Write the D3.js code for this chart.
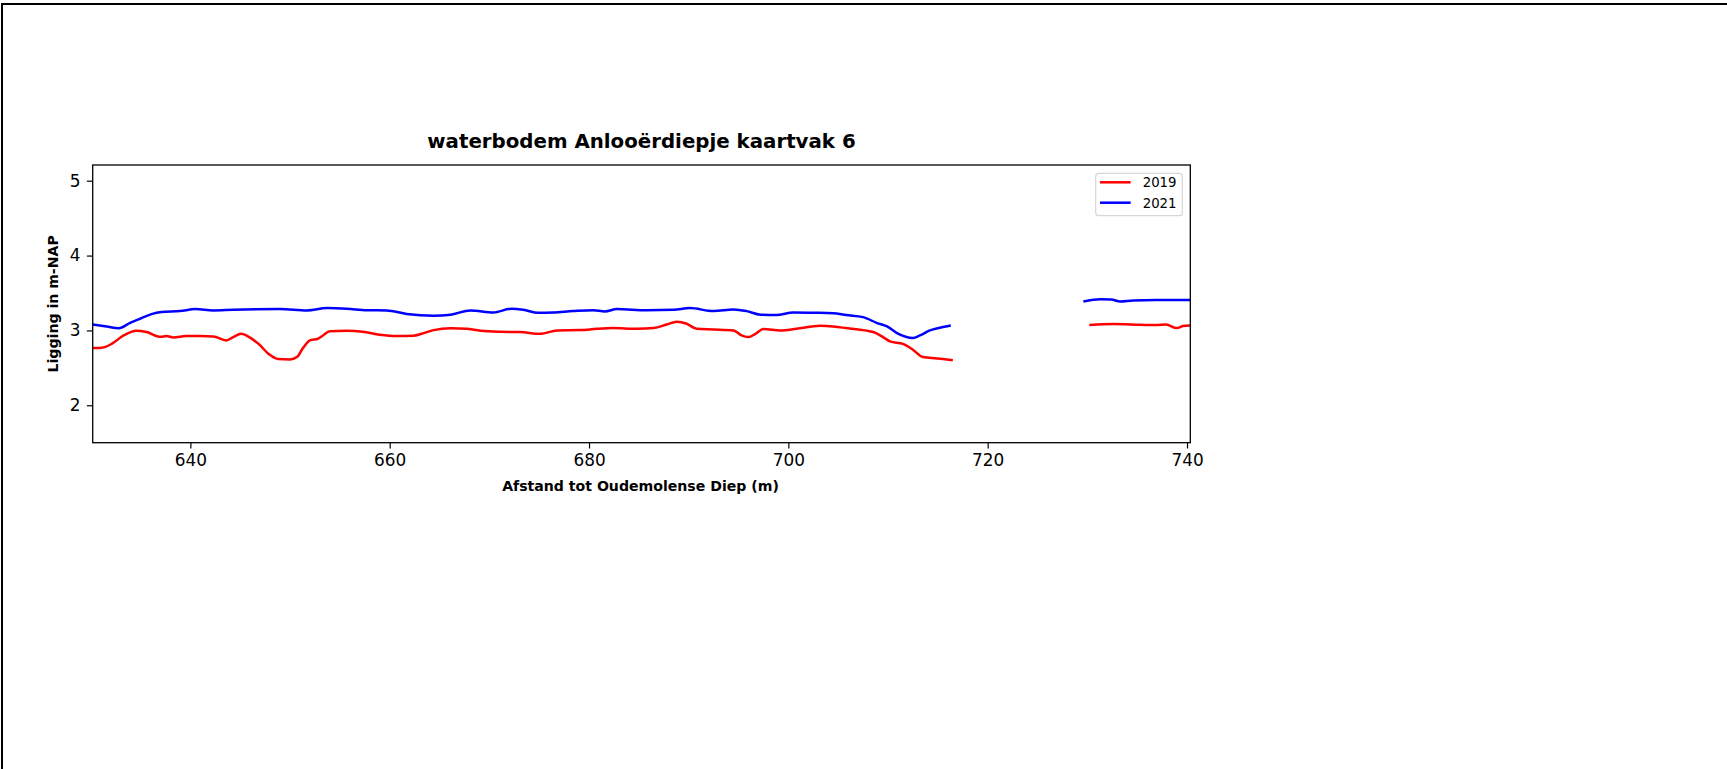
<!DOCTYPE html>
<html>
<head>
<meta charset="utf-8">
<script src="https://cdn.jsdelivr.net/npm/d3@7"></script>
<style>
  html, body { margin: 0; padding: 0; background: #fff; overflow: hidden; }
  #frame { position: absolute; left: 1px; top: 3px; width: 1800px; height: 900px; border: 2px solid #000; box-sizing: border-box; }
  svg { position: absolute; left: 0; top: 0; }
  text { font-family: "DejaVu Sans", sans-serif; fill: #000; }
</style>
</head>
<body>
<div id="frame"></div>
<svg id="chart" width="1727" height="769"></svg>
<script>
const titleText = "waterbodem Anlooërdiepje kaartvak 6";
const xLabelText = "Afstand tot Oudemolense Diep (m)";
const yLabelText = "Ligging in m-NAP";
const seriesNames = ["2019", "2021"];
const xTicks = [640, 660, 680, 700, 720, 740];
const yTicks = [2, 3, 4, 5];

// 2019 (null = gap in data)
const dist2019 = [630.2,631.1,632.1,633.3,634.6,635.6,637.0,637.6,638.3,639.6,641.0,642.3,643.6,644.3,645.1,645.9,646.9,647.9,648.8,650.0,650.7,651.3,652.0,652.8,653.3,654.0,655.7,657.3,659.0,660.7,662.4,663.2,664.4,666.1,667.7,669.1,671.1,673.1,675.1,676.8,679.1,680.8,682.4,684.8,686.5,687.8,688.8,689.8,690.8,692.5,694.5,695.3,696.0,696.7,697.5,699.2,700.8,703.2,704.5,705.8,708.5,709.5,710.2,711.5,712.5,713.5,714.9,715.5,716.5,
  723,
  730.2,732.6,735.3,736.9,737.9,738.96,739.6,740.3];
const level2019 = [2.764,2.768,2.82,2.933,2.996,2.978,2.915,2.924,2.907,2.924,2.924,2.92,2.866,2.911,2.955,2.911,2.813,2.68,2.617,2.613,2.644,2.764,2.866,2.889,2.933,2.99,2.996,2.982,2.942,2.924,2.929,2.955,3.004,3.03,3.022,2.996,2.982,2.978,2.955,3.0,3.004,3.022,3.031,3.022,3.031,3.08,3.116,3.089,3.022,3.013,3.0,2.933,2.911,2.955,3.018,3.0,3.022,3.062,3.053,3.031,2.978,2.911,2.853,2.82,2.742,2.644,2.626,2.617,2.6,
  null,
  3.071,3.085,3.076,3.071,3.08,3.031,3.058,3.067];

// 2021
const dist2021 = [630.2,631.6,632.8,633.95,634.95,636.1,637.1,638.96,640.5,642.3,644.3,649.0,651.7,653.7,655.7,657.7,659.7,661.7,664.4,666.1,668.1,670.4,672.2,673.4,674.9,676.4,678.4,680.4,681.6,682.8,685.8,688.5,690.1,692.5,694.5,695.8,697.2,698.8,700.5,702.5,704.5,705.8,707.5,708.9,709.9,710.9,712.5,713.2,714.2,715.2,716.3,
  723,
  729.6,731.3,732.4,733.3,734.6,736.9,740.3];
const level2021 = [3.08,3.053,3.03,3.10,3.156,3.218,3.245,3.258,3.285,3.267,3.276,3.285,3.267,3.298,3.29,3.27,3.267,3.22,3.196,3.21,3.267,3.24,3.289,3.276,3.236,3.24,3.258,3.27,3.254,3.285,3.27,3.276,3.298,3.258,3.28,3.258,3.21,3.205,3.24,3.236,3.23,3.205,3.178,3.098,3.053,2.964,2.898,2.933,3.0,3.036,3.067,
  null,
  3.387,3.418,3.414,3.387,3.40,3.405,3.405];

const seriesColors = ["#ff0000", "#0000ff"];

const svg = d3.select("#chart");
const L = 92.7, T = 165, W = 1097.6, H = 277.7;
const x = d3.scaleLinear().domain([630.2, 740.33]).range([L, L + W]);
const y = d3.scaleLinear().domain([1.5, 5.21]).range([T + H, T]);

svg.append("clipPath").attr("id", "clip").append("rect")
  .attr("x", L).attr("y", T).attr("width", W).attr("height", H);

const line = d3.line()
  .defined(d => d[1] !== null)
  .x(d => x(d[0])).y(d => y(d[1]))
  .curve(d3.curveMonotoneX);

const series = [
  d3.zip(dist2019, level2019),
  d3.zip(dist2021, level2021)
];

series.forEach((s, i) => {
  svg.append("path").datum(s)
    .attr("clip-path", "url(#clip)")
    .attr("fill", "none")
    .attr("stroke", seriesColors[i])
    .attr("stroke-width", 2.5)
    .attr("stroke-linejoin", "round")
    .attr("stroke-linecap", "butt")
    .attr("d", line);
});

// axes
const xAxis = d3.axisBottom(x).tickValues(xTicks).tickSize(5.8).tickPadding(5.5).tickFormat(d3.format("d"));
const yAxis = d3.axisLeft(y).tickValues(yTicks).tickSize(5.8).tickPadding(6.5).tickFormat(d3.format("d"));

const gx = svg.append("g").attr("transform", `translate(0,${T + H})`).call(xAxis);
const gy = svg.append("g").attr("transform", `translate(${L},0)`).call(yAxis);
[gx, gy].forEach(g => {
  g.select(".domain").remove();
  g.selectAll(".tick line").attr("stroke", "#000").attr("stroke-width", 1.2);
  g.selectAll(".tick text").attr("font-family", "DejaVu Sans").attr("font-size", 16.9).attr("fill", "#000");
});

// frame (spines)
svg.append("rect").attr("x", L).attr("y", T).attr("width", W).attr("height", H)
  .attr("fill", "none").attr("stroke", "#000").attr("stroke-width", 1.3);

// title
svg.append("text").attr("x", L + W / 2).attr("y", 148)
  .attr("text-anchor", "middle").attr("font-size", 19.8).attr("font-weight", "bold")
  .text(titleText);

// x label
svg.append("text").attr("x", L + W / 2 - 1).attr("y", 491)
  .attr("text-anchor", "middle").attr("font-size", 14.1).attr("font-weight", "bold")
  .text(xLabelText);

// y label
svg.append("text")
  .attr("transform", `translate(57.5,${T + H / 2}) rotate(-90)`)
  .attr("text-anchor", "middle").attr("font-size", 14.1).attr("font-weight", "bold")
  .text(yLabelText);

// legend
const lg = svg.append("g");
lg.append("rect").attr("x", 1095.7).attr("y", 173.3).attr("width", 86.6).attr("height", 42.4)
  .attr("rx", 3).attr("fill", "#fff").attr("fill-opacity", 0.8)
  .attr("stroke", "#d6d6d6").attr("stroke-width", 1.2);
seriesNames.forEach((n, i) => {
  const ly = 182.3 + i * 20.4;
  lg.append("line").attr("x1", 1100).attr("x2", 1130.7).attr("y1", ly).attr("y2", ly)
    .attr("stroke", seriesColors[i]).attr("stroke-width", 2.5);
  lg.append("text").attr("x", 1142.7).attr("y", ly + 4.9)
    .attr("font-size", 13.3).text(n);
});
</script>
</body>
</html>
